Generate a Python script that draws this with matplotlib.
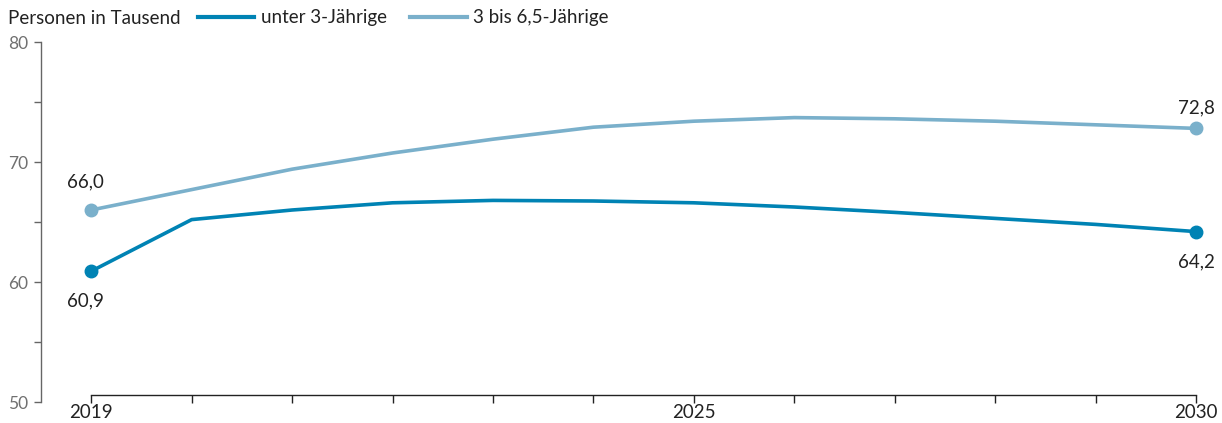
import matplotlib
matplotlib.use("Agg")
import matplotlib.pyplot as plt
from matplotlib.lines import Line2D

years = [2019, 2020, 2021, 2022, 2023, 2024, 2025, 2026, 2027, 2028, 2029, 2030]
unter3 = [60.9, 65.2, 66.0, 66.6, 66.8, 66.75, 66.6, 66.25, 65.8, 65.3, 64.8, 64.2]
bis65 = [66.0, 67.7, 69.4, 70.75, 71.9, 72.9, 73.4, 73.7, 73.6, 73.4, 73.1, 72.8]
series_names = ["unter 3-Jährige", "3 bis 6,5-Jährige"]
unit_label = "Personen in Tausend"
xtick_labels = {2019: "2019", 2025: "2025", 2030: "2030"}

dark = "#0083b4"
light = "#7ab0cb"

plt.rcParams['font.family'] = ['Lato', 'DejaVu Sans']

fig = plt.figure(figsize=(12.22, 4.23), dpi=100)
ax = fig.add_axes([41/1222, 1-402/423, (1212-41)/1222, (402-42)/423])

ax.plot(years, unter3, color=dark, lw=2.6, marker='o', markevery=[0, len(years)-1],
        markersize=9, solid_capstyle='butt', zorder=3)
ax.plot(years, bis65, color=light, lw=2.6, marker='o', markevery=[0, len(years)-1],
        markersize=9, solid_capstyle='butt', zorder=3)

def fmt(v):
    return f"{v:.1f}".replace(".", ",")

fs = 13.5
ax.annotate(fmt(bis65[0]), (years[0], bis65[0]), xytext=(-4, 14), textcoords='offset points',
            ha='center', va='bottom', fontsize=fs, color='#222222')
ax.annotate(fmt(unter3[0]), (years[0], unter3[0]), xytext=(-4, -15.5), textcoords='offset points',
            ha='center', va='top', fontsize=fs, color='#222222')
ax.annotate(fmt(bis65[-1]), (years[-1], bis65[-1]), xytext=(0, 8.5), textcoords='offset points',
            ha='center', va='bottom', fontsize=fs, color='#222222')
ax.annotate(fmt(unter3[-1]), (years[-1], unter3[-1]), xytext=(0, -15.5), textcoords='offset points',
            ha='center', va='top', fontsize=fs, color='#222222')

ax.set_ylim(50, 80)
ax.set_xlim(2018.5, 2030 + 16/100.5)

ax.spines['top'].set_visible(False)
ax.spines['right'].set_visible(False)
ax.spines['left'].set_color('#666666')
ax.spines['left'].set_linewidth(1.0)
ax.spines['bottom'].set_position(('data', 50.55))
ax.spines['bottom'].set_bounds(2019, 2030)
ax.spines['bottom'].set_color('#222222')
ax.spines['bottom'].set_linewidth(1.0)

ax.set_yticks([50, 55, 60, 65, 70, 75, 80])
ax.set_yticklabels(["50", "", "60", "", "70", "", "80"])
ax.tick_params(axis='y', length=5, width=1, color='#666666', labelsize=12.5,
               labelcolor='#707070', pad=4)

ax.set_xticks(years)
ax.set_xticklabels([xtick_labels.get(y, "") for y in years])
ax.tick_params(axis='x', length=6, width=1, color='#222222', labelsize=fs,
               labelcolor='#222222', pad=0)

fig.text(8/1222, 1-18/423, unit_label, fontsize=fs, color='#222222', va='center', ha='left')
handles = [Line2D([0], [0], color=dark, lw=3), Line2D([0], [0], color=light, lw=3)]
fig.legend(handles, series_names, loc='center left', bbox_to_anchor=(198/1222, 1-18/423),
           ncol=2, frameon=False, fontsize=fs, handlelength=3.0, handletextpad=0.35,
           columnspacing=1.25, labelcolor='#222222', borderaxespad=0, borderpad=0)

fig.savefig("out.png", dpi=100)
